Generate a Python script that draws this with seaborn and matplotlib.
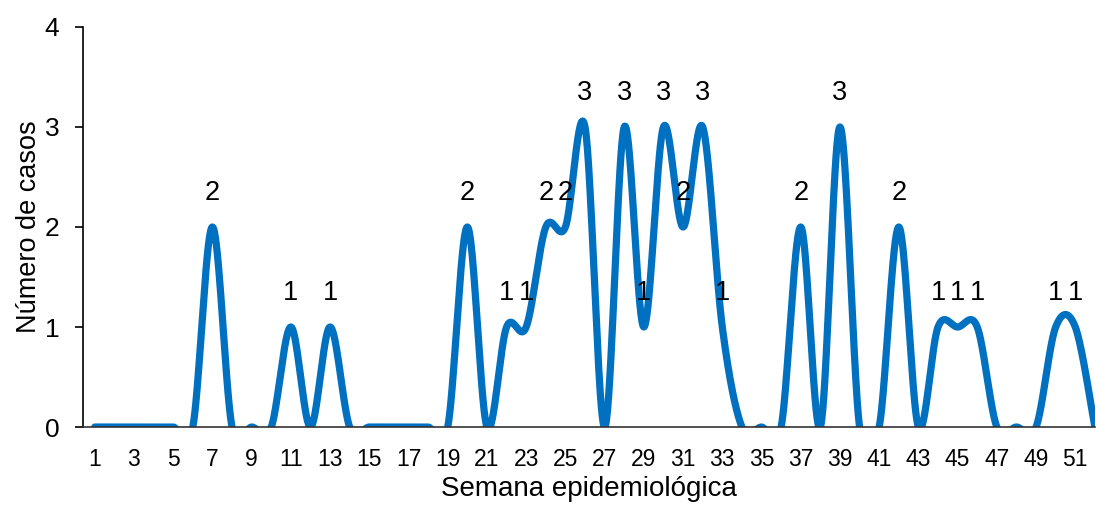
import numpy as np
import pandas as pd
import matplotlib
matplotlib.use("Agg")
import matplotlib.pyplot as plt
import seaborn as sns

weeks = list(range(1, 53))
cases = [0, 0, 0, 0, 0, 0, 2, 0, 0, 0,
         1, 0, 1, 0, 0, 0, 0, 0, 0, 2,
         0, 1, 1, 2, 2, 3, 0, 3, 1, 3,
         2, 3, 1, 0, 0, 0, 2, 0, 3, 0,
         0, 2, 0, 1, 1, 1, 0, 0, 0, 1,
         1, 0]
tick_labels = [str(w) for w in range(1, 52, 2)]

x_label = "Semana epidemiológica"
y_label = "Número de casos"


def smooth(xs, ys, n=40):
    """Excel-like smoothed line (Catmull-Rom / Bezier with 1/6 control points)."""
    xs = np.asarray(xs, float)
    ys = np.asarray(ys, float)
    px = np.concatenate([[xs[0]], xs, [xs[-1]]])
    py = np.concatenate([[ys[0]], ys, [ys[-1]]])
    out_x, out_y = [], []
    t = np.linspace(0, 1, n, endpoint=False)
    for i in range(1, len(px) - 2):
        p0 = np.array([px[i], py[i]])
        p3 = np.array([px[i + 1], py[i + 1]])
        p1 = p0 + (np.array([px[i + 1], py[i + 1]]) - np.array([px[i - 1], py[i - 1]])) / 6
        p2 = p3 - (np.array([px[i + 2], py[i + 2]]) - np.array([px[i], py[i]])) / 6
        b = ((1 - t) ** 3)[:, None] * p0 + (3 * (1 - t) ** 2 * t)[:, None] * p1 \
            + (3 * (1 - t) * t ** 2)[:, None] * p2 + (t ** 3)[:, None] * p3
        out_x.extend(b[:, 0])
        out_y.extend(b[:, 1])
    out_x.append(xs[-1])
    out_y.append(ys[-1])
    return np.array(out_x), np.array(out_y)


sx, sy = smooth(weeks, cases)
curve = pd.DataFrame({"week": sx, "cases": sy})

sns.set_theme(style="white")
plt.rcParams["font.family"] = ["Liberation Sans", "DejaVu Sans"]

fig = plt.figure(figsize=(10.96, 5.08), dpi=100)
ax = fig.add_axes([0.0757, 0.1594, 0.9233, 0.7875])

sns.lineplot(data=curve, x="week", y="cases", ax=ax, color="#0070C0",
             linewidth=5.2, sort=False, estimator=None)

for w, c in zip(weeks, cases):
    if c > 0:
        ax.text(w, c + 0.34, str(c), ha="center", va="center",
                fontsize=19.5, color="black")

ax.set_xlim(0.4, 52.0)
ax.set_ylim(0, 4)
ax.set_yticks([0, 1, 2, 3, 4])
ax.set_xticks(list(range(1, 52, 2)))
ax.set_xticklabels(tick_labels)
ax.tick_params(axis="y", which="both", left=True, length=6, width=1.2,
               labelsize=19, pad=11, color="black", labelcolor="black")
ax.tick_params(axis="x", bottom=False, labelsize=16.5, pad=9, labelcolor="black")

for side in ["top", "right"]:
    ax.spines[side].set_visible(False)
ax.spines["left"].set_color("black")
ax.spines["left"].set_linewidth(1.2)
ax.spines["bottom"].set_color("#333333")
ax.spines["bottom"].set_linewidth(1.2)

ax.set_xlabel(x_label, fontsize=20, color="black", labelpad=4)
ax.set_ylabel(y_label, fontsize=19.5, color="black", labelpad=2)

fig.savefig("out.png", dpi=100)
